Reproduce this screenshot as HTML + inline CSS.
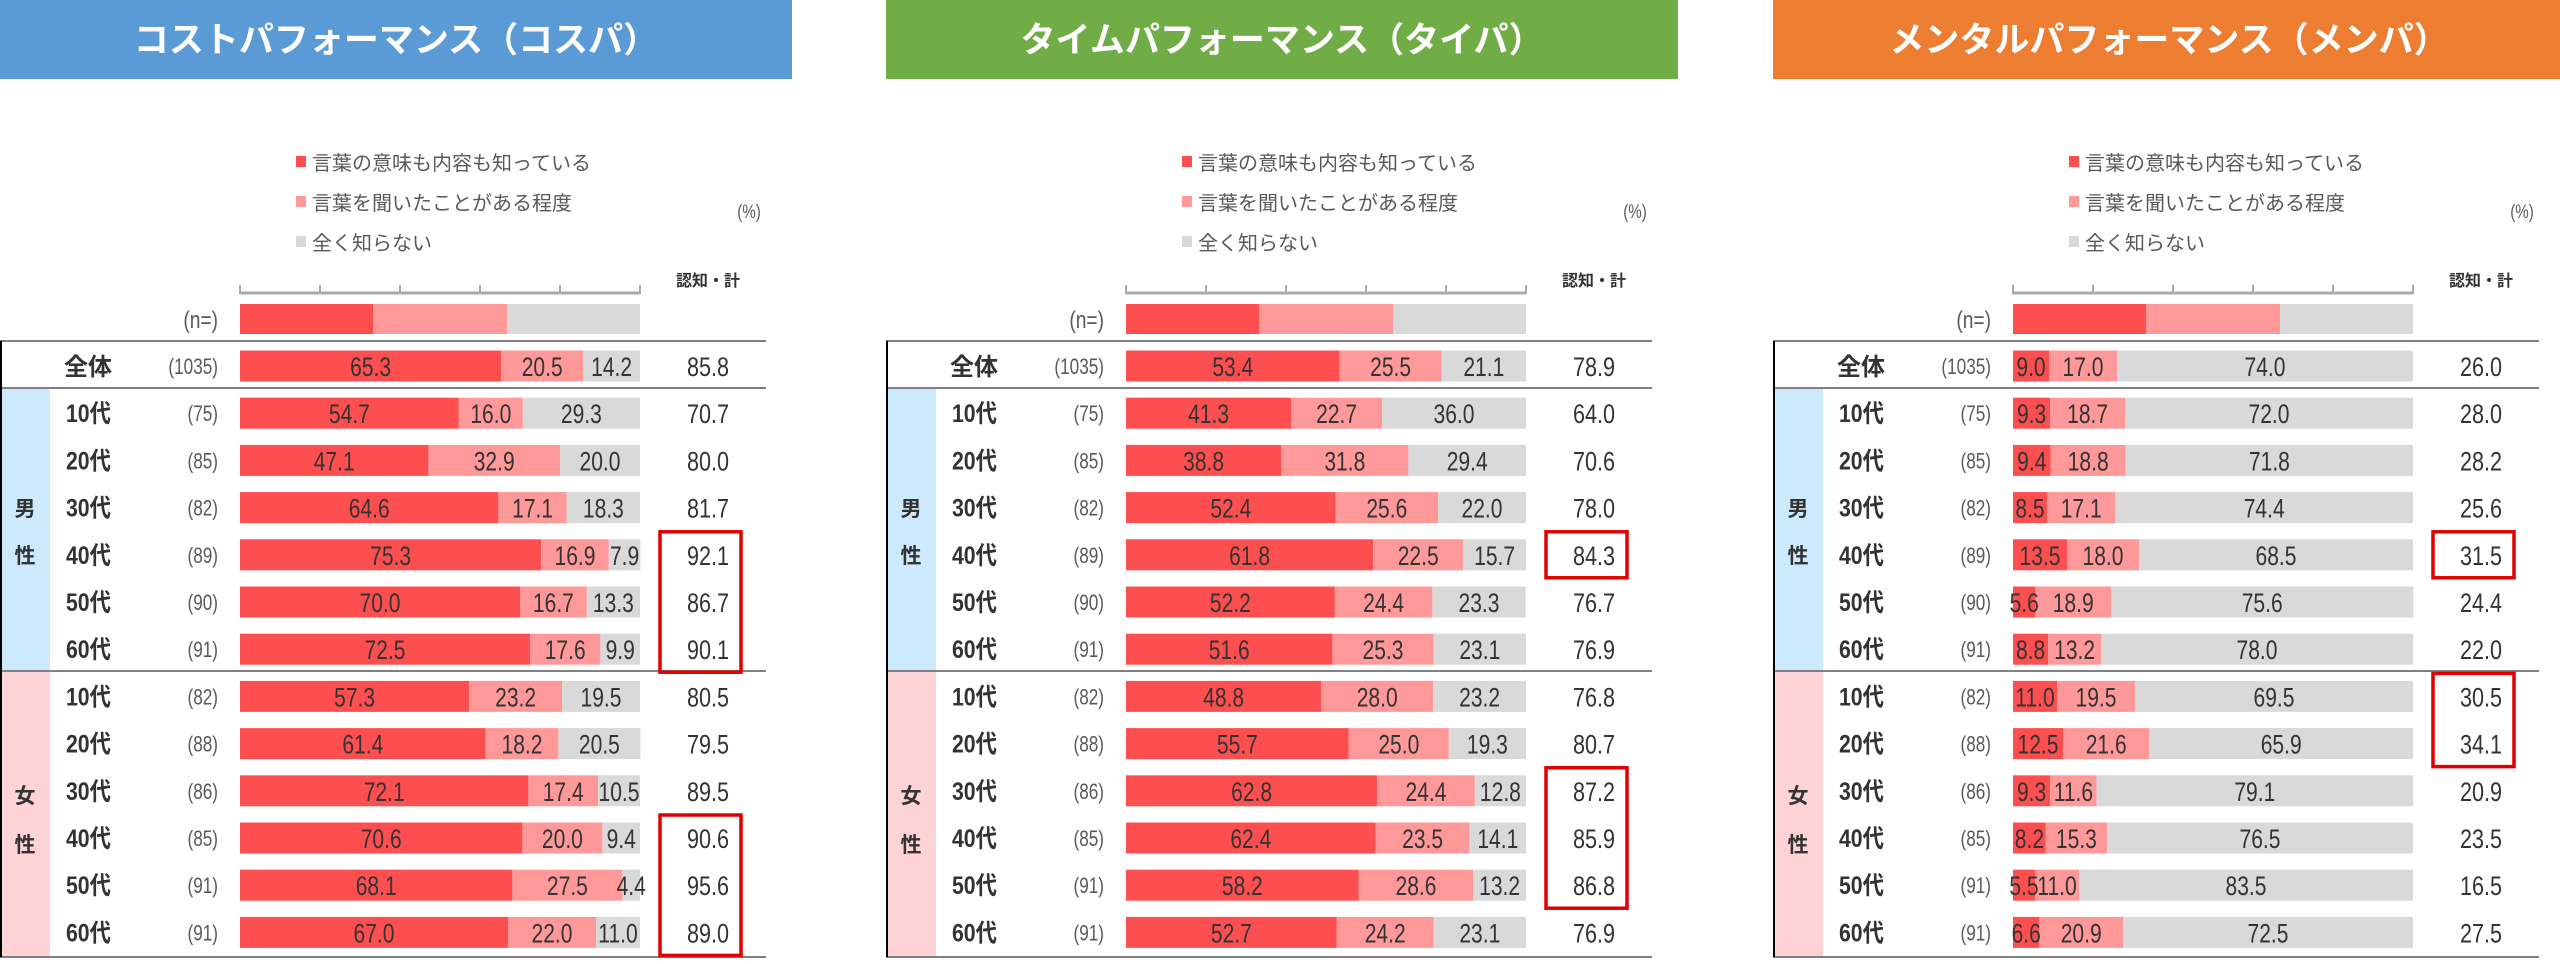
<!DOCTYPE html>
<html><head><meta charset="utf-8">
<style>
html,body{margin:0;padding:0;background:#fff;}
body{width:2560px;height:959px;overflow:hidden;}
svg text{font-family:"Liberation Sans","Noto Sans CJK JP",sans-serif;}
</style></head>
<body>
<svg id="s" width="2560" height="959" xmlns="http://www.w3.org/2000/svg"></svg>
<script>
const S=document.getElementById('s');
const NS='http://www.w3.org/2000/svg';
function el(t,a,txt){const e=document.createElementNS(NS,t);for(const k in a)e.setAttribute(k,a[k]);if(txt!==undefined)e.textContent=txt;S.appendChild(e);return e;}
function nt(x,y,txt,size,anchor,fill,sx,bold){return el('text',{x:0,y:0,transform:'translate('+x+','+y+') scale('+sx+',1)','text-anchor':anchor,'font-size':size,fill:fill,'font-weight':bold?'bold':'normal'},txt);}
const panels=[
 {x:0,title:'コストパフォーマンス（コスパ）',col:'#5b9bd5',boxes:[[4,6],[10,12]],
  d:[[65.3,20.5,14.2,85.8],[54.7,16.0,29.3,70.7],[47.1,32.9,20.0,80.0],[64.6,17.1,18.3,81.7],[75.3,16.9,7.9,92.1],[70.0,16.7,13.3,86.7],[72.5,17.6,9.9,90.1],[57.3,23.2,19.5,80.5],[61.4,18.2,20.5,79.5],[72.1,17.4,10.5,89.5],[70.6,20.0,9.4,90.6],[68.1,27.5,4.4,95.6],[67.0,22.0,11.0,89.0]]},
 {x:886,title:'タイムパフォーマンス（タイパ）',col:'#70ad47',boxes:[[4,4],[9,11]],
  d:[[53.4,25.5,21.1,78.9],[41.3,22.7,36.0,64.0],[38.8,31.8,29.4,70.6],[52.4,25.6,22.0,78.0],[61.8,22.5,15.7,84.3],[52.2,24.4,23.3,76.7],[51.6,25.3,23.1,76.9],[48.8,28.0,23.2,76.8],[55.7,25.0,19.3,80.7],[62.8,24.4,12.8,87.2],[62.4,23.5,14.1,85.9],[58.2,28.6,13.2,86.8],[52.7,24.2,23.1,76.9]]},
 {x:1773,title:'メンタルパフォーマンス（メンパ）',col:'#ed7d31',boxes:[[4,4],[7,8]],
  d:[[9.0,17.0,74.0,26.0],[9.3,18.7,72.0,28.0],[9.4,18.8,71.8,28.2],[8.5,17.1,74.4,25.6],[13.5,18.0,68.5,31.5],[5.6,18.9,75.6,24.4],[8.8,13.2,78.0,22.0],[11.0,19.5,69.5,30.5],[12.5,21.6,65.9,34.1],[9.3,11.6,79.1,20.9],[8.2,15.3,76.5,23.5],[5.5,11.0,83.5,16.5],[6.6,20.9,72.5,27.5]]}
];
const labels=['全体','10代','20代','30代','40代','50代','60代','10代','20代','30代','40代','50代','60代'];
const ns=['(1035)','(75)','(85)','(82)','(89)','(90)','(91)','(82)','(88)','(86)','(85)','(91)','(91)'];
const C=['#fe4f50','#ff9999','#d9d9d9'];
const P=47.2, Y0=366, BH=31, BX=240, BW=400;
panels.forEach(p=>{
 const o=p.x;
 el('rect',{x:o,y:0,width:792,height:79,fill:p.col});
 el('text',{x:o+396,y:52,'text-anchor':'middle','font-size':35,'font-weight':'bold',fill:'#fff'},p.title);
 const lg=['言葉の意味も内容も知っている','言葉を聞いたことがある程度','全く知らない'];
 lg.forEach((t,i)=>{const y=162+40*i;el('rect',{x:o+296,y:y-6,width:10,height:11,fill:C[i]});
  el('text',{x:o+312,y:y+8,'font-size':20,fill:'#595959'},t);});
 nt(o+749,218,'(%)',19,'middle','#595959',0.8,false);
 el('text',{x:o+708,y:286,'text-anchor':'middle','font-size':16,'font-weight':'bold',fill:'#333'},'認知・計');
 el('line',{x1:o+BX,y1:293,x2:o+BX+BW,y2:293,stroke:'#aaa','stroke-width':3});
 for(let i=0;i<=5;i++)el('line',{x1:o+BX+i*80,y1:285,x2:o+BX+i*80,y2:294,stroke:'#aaa','stroke-width':2});
 el('rect',{x:o+BX,y:304,width:133,height:30,fill:C[0]});
 el('rect',{x:o+BX+133,y:304,width:134,height:30,fill:C[1]});
 el('rect',{x:o+BX+267,y:304,width:133,height:30,fill:C[2]});
 nt(o+218,328,'(n=)',24,'end','#595959',0.8,false);
 el('rect',{x:o,y:389,width:50,height:282,fill:'#cdeafc'});
 el('rect',{x:o,y:672,width:50,height:285,fill:'#fdd3d5'});
 el('text',{x:o+25,y:516,'text-anchor':'middle','font-size':21,'font-weight':'bold',fill:'#333'},'男');
 el('text',{x:o+25,y:563,'text-anchor':'middle','font-size':21,'font-weight':'bold',fill:'#333'},'性');
 el('text',{x:o+25,y:803,'text-anchor':'middle','font-size':21,'font-weight':'bold',fill:'#333'},'女');
 el('text',{x:o+25,y:852,'text-anchor':'middle','font-size':21,'font-weight':'bold',fill:'#333'},'性');
 [341,388,671,957].forEach(y=>el('line',{x1:o,y1:y,x2:o+766,y2:y,stroke:'#808080','stroke-width':2}));
 el('line',{x1:o+1,y1:341,x2:o+1,y2:957,stroke:'#000','stroke-width':2});
 p.d.forEach((r,i)=>{
  const cy=Y0+P*i;
  if(i==0) el('text',{x:o+88,y:cy+9,'text-anchor':'middle','font-size':24,'font-weight':'bold',fill:'#333'},labels[i]);
  else nt(o+66,cy+9,labels[i],25,'start','#333',0.85,true);
  nt(o+218,cy+8,ns[i],22,'end','#595959',0.78,false);
  let x=o+BX;
  for(let k=0;k<3;k++){const w=r[k]*BW/100;
   el('rect',{x:x,y:cy-BH/2,width:w,height:BH,fill:C[k]});
   x+=w;}
  x=o+BX;
  for(let k=0;k<3;k++){const w=r[k]*BW/100;
   nt(x+w/2,cy+10,r[k].toFixed(1),27,'middle','#333',0.78,false);
   x+=w;}
  nt(o+708,cy+10,r[3].toFixed(1),27,'middle','#333',0.8,false);
 });
 p.boxes.forEach(b=>{const y1=Y0+P*b[0]-23,y2=Y0+P*b[1]+23;
  el('rect',{x:o+660,y:y1,width:81,height:y2-y1,fill:'none',stroke:'#e00000','stroke-width':3.5});});
});
</script>
</body></html>
